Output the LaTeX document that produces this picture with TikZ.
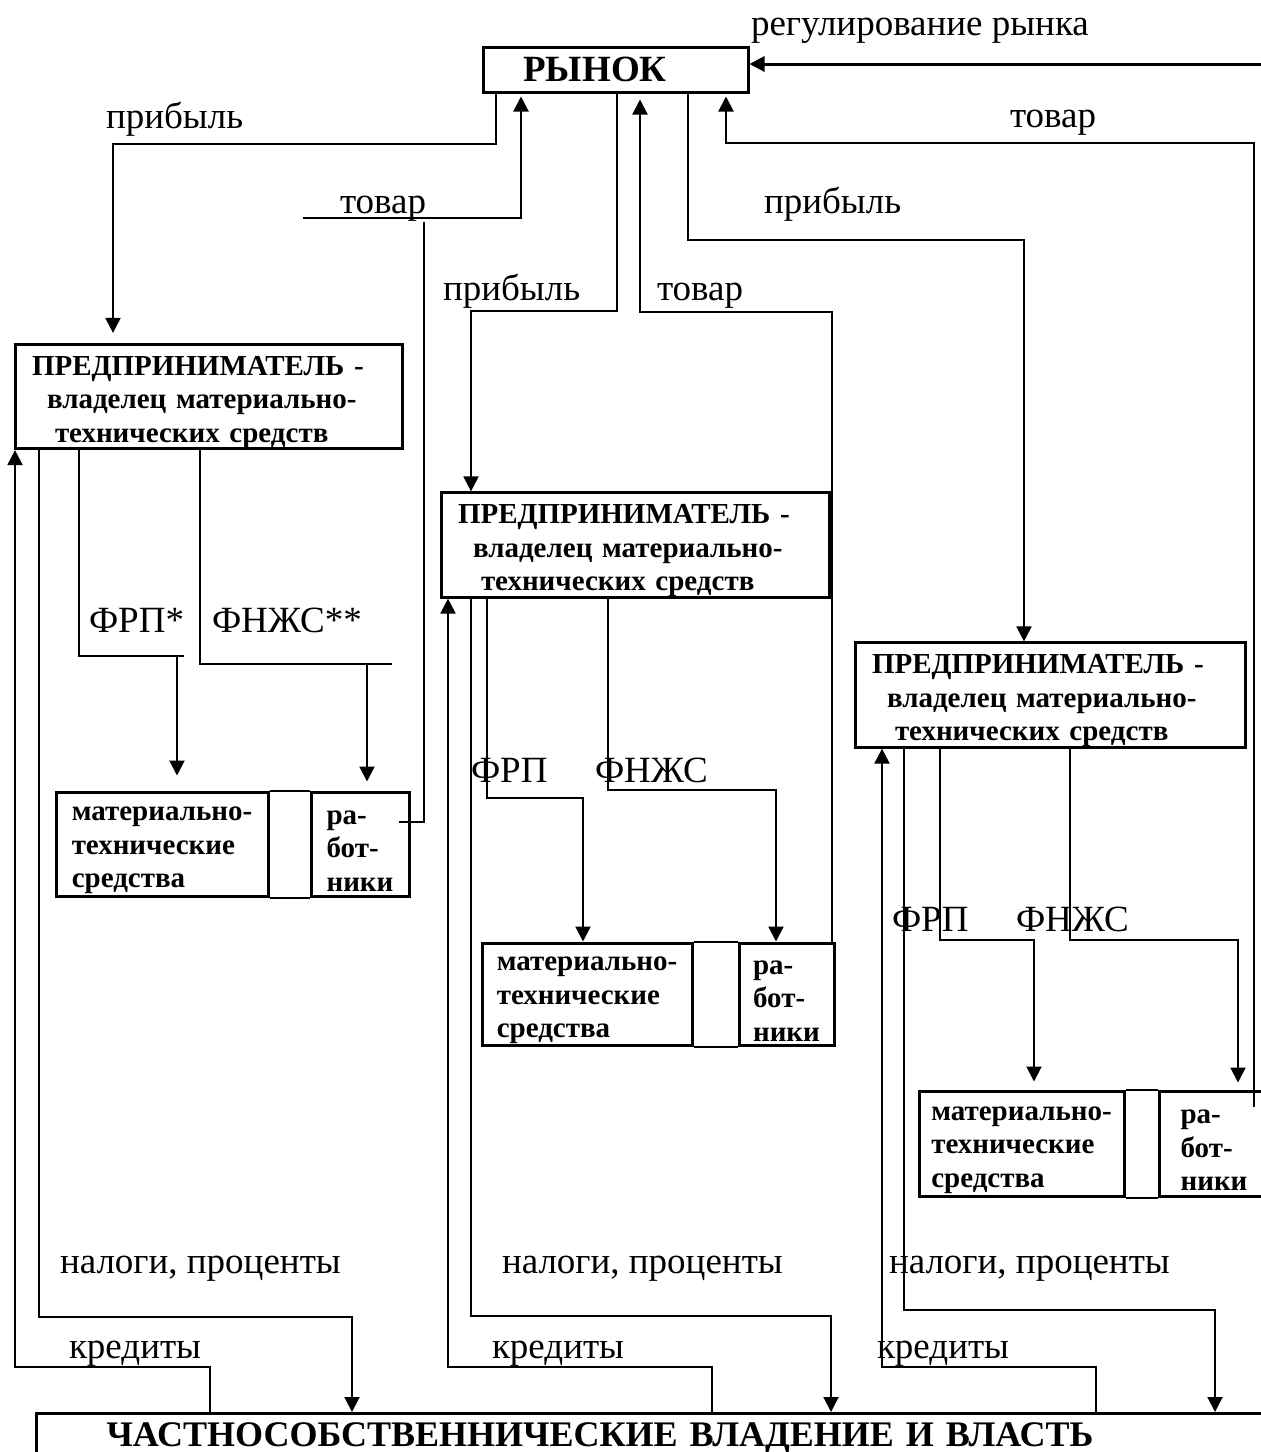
\documentclass[tikz,border=0pt]{standalone}
\usepackage{fontspec}
\setmainfont{Liberation Serif}
\usetikzlibrary{arrows.meta,positioning}

\begin{document}
\begin{tikzpicture}[x=1pt,y=-1pt,>={Triangle[length=15pt,width=15pt]},
            line width=2pt]
        \tikzstyle{box}=[draw,line width=3pt,inner sep=0pt,
            font=\bfseries\fontsize{29}{33.5}\selectfont]
        \tikzstyle{owner}=[box,align=left,inner xsep=17pt,minimum height=104pt,text height=31pt]
        \tikzstyle{cell}=[box,align=left,minimum height=104pt,text height=94pt]
        \tikzstyle{lbl}=[anchor=base west,inner sep=0pt,
            font=\fontsize{37}{40}\selectfont]

        \useasboundingbox (0,0) rectangle (1261,1452);

        \node[box,font=\bfseries\fontsize{37}{40}\selectfont,
            minimum width=265pt,minimum height=45pt] (rynok) at (615.5,69.5)
            {РЫНОК\hspace*{41pt}};

        \node[owner,text width=353pt,minimum height=103pt] (p1) at (208.5,396.5)
            {ПРЕДПРИНИМАТЕЛЬ -\\\hspace*{15pt}владелец материально-\\\hspace*{23pt}технических средств};
        \node[owner,text width=354pt] (p2) at (635,545)
            {ПРЕДПРИНИМАТЕЛЬ -\\\hspace*{15pt}владелец материально-\\\hspace*{23pt}технических средств};
        \node[owner,text width=356pt] (p3) at (1050,695)
            {ПРЕДПРИНИМАТЕЛЬ -\\\hspace*{15pt}владелец материально-\\\hspace*{23pt}технических средств};

        \node[cell,minimum width=212pt] (m1) at (162,844) {материально-\\технические\\средства};
        \node[cell,minimum width=98pt] (r1) [right=40pt of m1] {ра-\\бот-\\ники};
        \node[cell,minimum width=210pt,minimum height=102pt] (m2) at (587,994) {материально-\\технические\\средства};
        \node[cell,minimum width=95pt,minimum height=102pt] (r2) [right=44pt of m2] {ра-\\бот-\\ники};
        \node[cell,minimum width=205pt,minimum height=105pt] (m3) at (1021.5,1143.5) {материально-\\технические\\средства};
        \node[cell,minimum width=110pt,minimum height=105pt] (r3) [right=32pt of m3] {ра-\\бот-\\ники};

        \node[box,anchor=north west,font=\bfseries\fontsize{36}{40}\selectfont,
            text width=1250pt,align=left,inner xsep=70pt,inner ysep=9pt] (base) at (35,1412)
            {ЧАСТНОСОБСТВЕННИЧЕСКИЕ ВЛАДЕНИЕ И ВЛАСТЬ};

        % labels
        \node[lbl] (reg) at (750,35) {регулирование рынка};
        \node[lbl] (prib1) at (105,128) {прибыль};
        \node[lbl] (tov1) at (339,213) {товар};
        \node[lbl] (prib2) at (442,300) {прибыль};
        \node[lbl] (tov2) at (656,300) {товар};
        \node[lbl] (prib3) at (763,213) {прибыль};
        \node[lbl] (tov3) at (1009,127) {товар};
        \node[lbl] (frp1) at (88,632) {ФРП*};
        \node[lbl] (fnzh1) at (211,632) {ФНЖС**};
        \node[lbl] (frp2) at (470,782) {ФРП};
        \node[lbl] (fnzh2) at (594,782) {ФНЖС};
        \node[lbl] (frp3) at (891,931) {ФРП};
        \node[lbl] (fnzh3) at (1015,931) {ФНЖС};
        \node[lbl] (nal1) at (59,1273) {налоги, проценты};
        \node[lbl] (nal2) at (501,1273) {налоги, проценты};
        \node[lbl] (nal3) at (888,1273) {налоги, проценты};
        \node[lbl] (kred1) at (68,1358) {кредиты};
        \node[lbl] (kred2) at (491,1358) {кредиты};
        \node[lbl] (kred3) at (876,1358) {кредиты};

        % market links
        \coordinate (regin) at (1270,64);
        \draw[->,line width=3pt] (regin) -- (rynok.east |- regin);

        \coordinate (pr1a) at (496,144);
        \coordinate (pr1b) at (113,144);
        \draw[->,shorten >=10pt] (rynok.south -| pr1a) -- (pr1a) -- (pr1b) -- (p1.north -| pr1b);
        \coordinate (tv1a) at (303,218);
        \coordinate (tv1b) at (521,218);
        \draw[->,shorten >=3pt] (tv1a) -- (tv1b) -- (rynok.south -| tv1b);
        \coordinate (tv1c) at (399,822);
        \coordinate (tv1d) at (424,822);
        \coordinate (tv1e) at (424,222);
        \draw (tv1c) -- (tv1d) -- (tv1e);

        \coordinate (pr2a) at (617,311);
        \coordinate (pr2b) at (471,311);
        \draw[->] (rynok.south -| pr2a) -- (pr2a) -- (pr2b) -- (p2.north -| pr2b);
        \coordinate (tv2a) at (832,312);
        \coordinate (tv2b) at (640,312);
        \draw[->,shorten >=6pt] (r2.north -| tv2a) -- (tv2a) -- (tv2b) -- (rynok.south -| tv2b);

        \coordinate (pr3a) at (688,240);
        \coordinate (pr3b) at (1024,240);
        \draw[->] (rynok.south -| pr3a) -- (pr3a) -- (pr3b) -- (p3.north -| pr3b);
        \coordinate (tv3s) at (1254,1107);
        \coordinate (tv3a) at (1254,143);
        \coordinate (tv3b) at (726,143);
        \draw[->,shorten >=3pt] (tv3s) -- (tv3a) -- (tv3b) -- (rynok.south -| tv3b);

        % funds
        \coordinate (fr1a) at (79,656);
        \coordinate (fr1b) at (184,656);
        \coordinate (fr1c) at (177,656);
        \draw (p1.south -| fr1a) -- (fr1a) -- (fr1b);
        \draw[->,shorten >=15pt] (fr1c) -- (m1.north -| fr1c);
        \coordinate (fn1a) at (200,664);
        \coordinate (fn1b) at (392,664);
        \coordinate (fn1c) at (367,664);
        \draw (p1.south -| fn1a) -- (fn1a) -- (fn1b);
        \draw[->,shorten >=9pt] (fn1c) -- (r1.north -| fn1c);

        \coordinate (fr2a) at (487,798);
        \coordinate (fr2b) at (583,798);
        \draw[->] (p2.south -| fr2a) -- (fr2a) -- (fr2b) -- (m2.north -| fr2b);
        \coordinate (fn2a) at (608,790);
        \coordinate (fn2b) at (776,790);
        \draw[->] (p2.south -| fn2a) -- (fn2a) -- (fn2b) -- (r2.north -| fn2b);

        \coordinate (fr3a) at (940,940);
        \coordinate (fr3b) at (1034,940);
        \draw[->,shorten >=8pt] (p3.south -| fr3a) -- (fr3a) -- (fr3b) -- (m3.north -| fr3b);
        \coordinate (fn3a) at (1070,940);
        \coordinate (fn3b) at (1238,940);
        \draw[->,shorten >=7pt] (p3.south -| fn3a) -- (fn3a) -- (fn3b) -- (r3.north -| fn3b);

        % taxes and credits
        \coordinate (kr1a) at (210,1367);
        \coordinate (kr1b) at (15,1367);
        \draw[->] (base.north -| kr1a) -- (kr1a) -- (kr1b) -- (p1.south -| kr1b);
        \coordinate (nl1a) at (39,1317);
        \coordinate (nl1b) at (352,1317);
        \draw[->] (p1.south -| nl1a) -- (nl1a) -- (nl1b) -- (base.north -| nl1b);

        \coordinate (kr2a) at (712,1367);
        \coordinate (kr2b) at (448,1367);
        \draw[->] (base.north -| kr2a) -- (kr2a) -- (kr2b) -- (p2.south -| kr2b);
        \coordinate (nl2a) at (471,1316);
        \coordinate (nl2b) at (831,1316);
        \draw[->] (p2.south -| nl2a) -- (nl2a) -- (nl2b) -- (base.north -| nl2b);

        \coordinate (kr3a) at (1096,1367);
        \coordinate (kr3b) at (882,1367);
        \draw[->] (base.north -| kr3a) -- (kr3a) -- (kr3b) -- (p3.south -| kr3b);
        \coordinate (nl3a) at (904,1310);
        \coordinate (nl3b) at (1215,1310);
        \draw[->] (p3.south -| nl3a) -- (nl3a) -- (nl3b) -- (base.north -| nl3b);

        % gaps between the cells
        \draw (m1.north east) -- (r1.north west);
        \draw (m1.south east) -- (r1.south west);
        \draw (m2.north east) -- (r2.north west);
        \draw (m2.south east) -- (r2.south west);
        \draw (m3.north east) -- (r3.north west);
        \draw (m3.south east) -- (r3.south west);
    \end{tikzpicture}
\end{document}
